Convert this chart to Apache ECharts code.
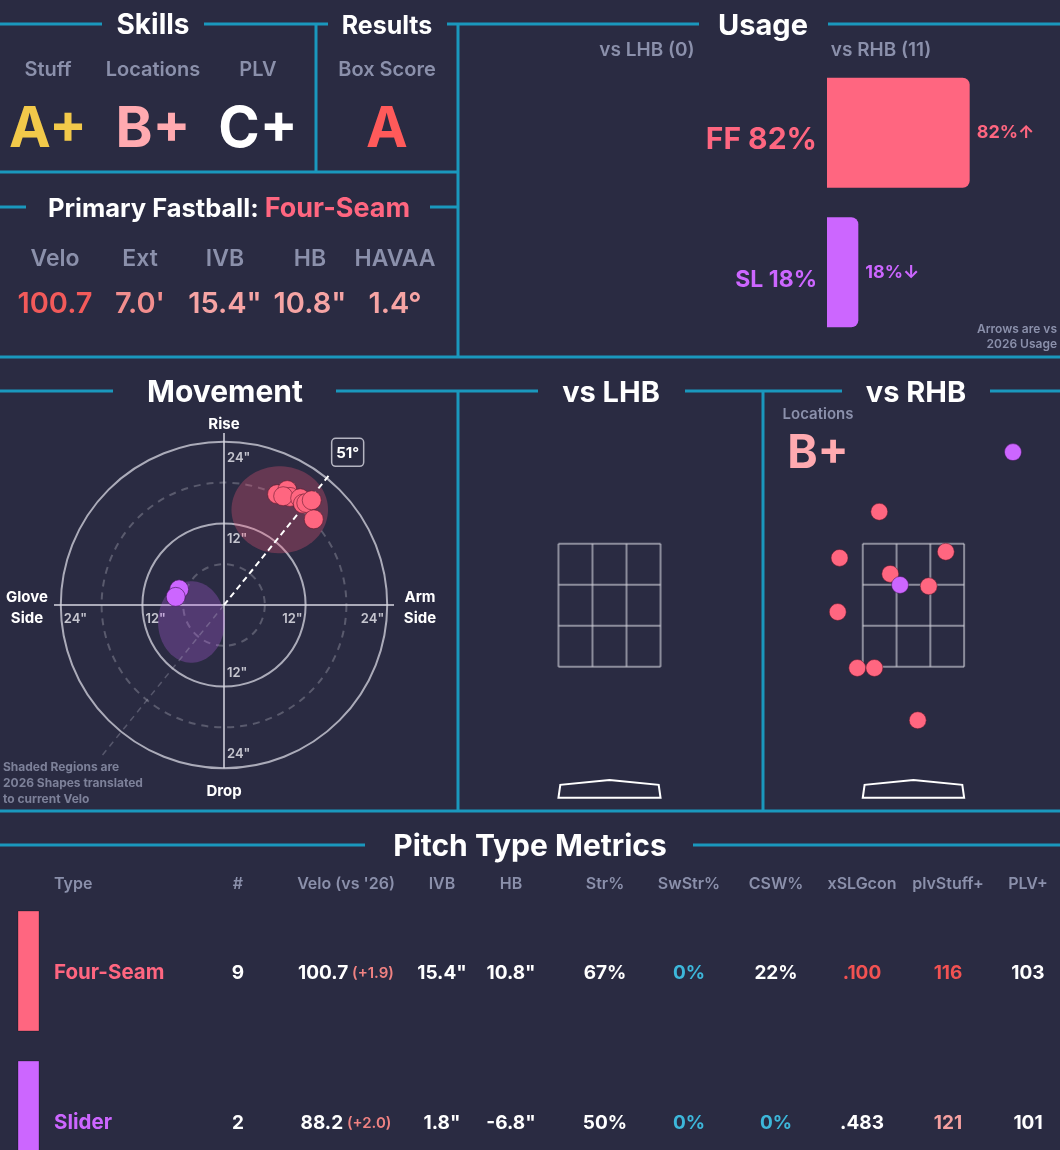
<!DOCTYPE html>
<html><head><meta charset="utf-8">
<script src="https://cdn.jsdelivr.net/npm/echarts@6/dist/echarts.min.js"></script>
<style>html,body{margin:0;padding:0;background:#2a2b42;}#c{width:1060px;height:1150px;}</style>
</head><body><div id="c"></div>
<script>
// ---------------- DATA ----------------
const skillLabels = ['Stuff', 'Locations', 'PLV'];
const skillGrades = ['A+', 'B+', 'C+'];
const resultLabels = ['Box Score'];
const resultGrades = ['A'];
const primaryFastball = 'Four-Seam';
const fbMetricLabels = ['Velo', 'Ext', 'IVB', 'HB', 'HAVAA'];
const fbMetricValues = ['100.7', "7.0'", '15.4"', '10.8"', '1.4°'];

const usageTypes = ['FF', 'SL'];
const usageRHB = [82, 18];
const usageArrows = ['↑', '↓'];
const batterCounts = { LHB: 0, RHB: 11 };

const ffMovement = [[7.8,16.3],[9.3,16.9],[9.7,15.9],[8.7,16.0],[11.2,15.7],[11.6,14.9],[12.1,15.0],[12.9,15.4],[13.2,12.6]];
const slMovement = [[-6.6,2.3],[-7.1,1.2]];
const shapeRegions = [[8.2,14.0,7.1,6.4],[-4.8,-2.5,4.9,6.0]]; // cx, cy, rx, ry (inches)
const armAngle = 51;
const ringRadii = [6, 12, 18, 24];

const ffLocLHB = [];
const slLocLHB = [];
const ffLocRHB = [[-0.56,4.02],[-1.21,3.27],[0.53,3.37],[-0.38,3.01],[0.25,2.81],[-1.24,2.39],[-0.92,1.48],[-0.64,1.48],[0.07,0.63]];
const slLocRHB = [[1.63,4.99],[-0.22,2.83]];
const locGradeRHB = 'B+';

const tableHeaders = ['Type', '#', "Velo (vs '26)", 'IVB', 'HB', 'Str%', 'SwStr%', 'CSW%', 'xSLGcon', 'plvStuff+', 'PLV+'];
const pitchNames = ['Four-Seam', 'Slider'];
const pitchCounts = [9, 2];
const pitchVelo = [100.7, 88.2];
const pitchVeloDiff = [1.9, 2.0];
const pitchIVB = [15.4, 1.8];
const pitchHB = [10.8, -6.8];
const pitchStr = [67, 50];
const pitchSwStr = [0, 0];
const pitchCSW = [22, 0];
const pitchXSLG = ['.100', '.483'];
const pitchStuffPlus = [116, 121];
const pitchPLVPlus = [103, 101];

// ---------------- STYLE / LAYOUT ----------------
const FONT = 'Inter, "Noto Sans", sans-serif';
const LINE = '#1a98bd', GRAY = '#8b90ab', WHITE = '#ffffff';
const FF_C = '#ff6680', SL_C = '#cc66ff';
const typeColors = [FF_C, SL_C];
const gradeColors = ['#f2c94a', '#ffaab0', '#ffffff'];
const resultColors = ['#ff5a5a'];
const fbValueColors = ['#f25a5a', '#f28e8e', '#f6a4a4', '#f6a4a4', '#f6a4a4'];
const DY = 2; // baseline nudge for text

const G = [];
function T(x, y, text, size, fill, opt) {
  opt = opt || {};
  G.push({ type: 'text', x: x, y: y + DY, silent: true, z: 10,
    style: Object.assign({ text: text, fill: fill, font: (opt.weight || 'bold') + ' ' + size + 'px ' + FONT,
      align: opt.align || 'center', verticalAlign: 'middle' }, opt.style || {}) });
}
function HL(y, x1, x2) { G.push({ type: 'line', silent: true, z: 5, shape: { x1: x1, y1: y, x2: x2, y2: y }, style: { stroke: LINE, lineWidth: 3 } }); }
function VL(x, y1, y2) { G.push({ type: 'line', silent: true, z: 5, shape: { x1: x, y1: y1, x2: x, y2: y2 }, style: { stroke: LINE, lineWidth: 3 } }); }

// frame
[[24,0,102],[24,204,328],[24,447,699],[24,828,1060],[172,0,458],[207,0,26],[207,430,458],
 [357,0,1060],[391,0,113],[391,336,458],[391,458,538],[391,685,763],[391,763,842],[391,990,1060],
 [811,0,1060],[845,0,365],[845,693,1060]].forEach(a => HL(a[0], a[1], a[2]));
[[316,24,172],[458,24,357],[458,391,811],[763,391,811]].forEach(a => VL(a[0], a[1], a[2]));

// section titles
T(153, 24, 'Skills', 28, WHITE);
T(387, 24, 'Results', 25, WHITE);
T(763, 24, 'Usage', 29, WHITE);
T(225, 391, 'Movement', 30, WHITE);
T(611, 391, 'vs LHB', 29, WHITE);
T(916, 391, 'vs RHB', 29, WHITE);
T(530, 845, 'Pitch Type Metrics', 30, WHITE);

// skills
const skillX = [48, 153, 258];
skillLabels.forEach((l, i) => { T(skillX[i], 68, l, 20, GRAY, { weight: 600 }); T(skillX[i], 128, skillGrades[i], 56, gradeColors[i]); });
resultLabels.forEach((l, i) => { T(387, 68, l, 20, GRAY, { weight: 600 }); T(387, 128, resultGrades[i], 56, resultColors[i]); });

// primary fastball
G.push({ type: 'text', x: 229, y: 207 + DY, silent: true, z: 10, style: { text: '{w|Primary Fastball: }{p|' + primaryFastball + '}',
  align: 'center', verticalAlign: 'middle',
  rich: { w: { fill: WHITE, font: 'bold 25.5px ' + FONT }, p: { fill: FF_C, font: 'bold 27px ' + FONT } } } });
const fbX = [55, 140, 225, 310, 395];
fbMetricLabels.forEach((l, i) => { T(fbX[i], 257, l, 23, GRAY, { weight: 600 }); T(fbX[i], 302, fbMetricValues[i], 29, fbValueColors[i], { weight: 600 }); });

// usage headers
T(647, 48, 'vs LHB (' + batterCounts.LHB + ')', 19, GRAY, { weight: 600 });
T(881, 48, 'vs RHB (' + batterCounts.RHB + ')', 19, GRAY, { weight: 600 });
T(1057, 327, 'Arrows are vs', 12, GRAY, { align: 'right', weight: 600 });
T(1057, 342, '2026 Usage', 12, GRAY, { align: 'right', weight: 600 });

// movement labels
T(224, 422, 'Rise', 15, WHITE);
T(224, 789, 'Drop', 15, WHITE);
T(27, 595, 'Glove', 15, WHITE); T(27, 616, 'Side', 15, WHITE);
T(420, 595, 'Arm', 15, WHITE); T(420, 616, 'Side', 15, WHITE);
['Shaded Regions are', '2026 Shapes translated', 'to current Velo'].forEach((s, i) => T(3, 765 + i * 16, s, 12, '#7d8199', { align: 'left' }));

// locations grade
T(818, 412, 'Locations', 15, GRAY, { weight: 600 });
T(818, 452, locGradeRHB, 46, gradeColors[1]);

// table
const colX = [54, 238, 346, 442, 511, 605, 689, 776, 862, 948, 1028];
tableHeaders.forEach((h, j) => T(colX[j], 882, h, 16, GRAY, { weight: 600, align: j === 0 ? 'left' : 'center' }));
const CYAN = '#3db7da', RED = '#f25252', PINK = '#f5a0a0';
const cellColors = [
  [FF_C, WHITE, WHITE, WHITE, WHITE, WHITE, CYAN, WHITE, RED, RED, WHITE],
  [SL_C, WHITE, WHITE, WHITE, WHITE, WHITE, CYAN, CYAN, WHITE, PINK, WHITE]
];
pitchNames.forEach((name, i) => {
  const y = 971 + i * 150;
  G.push({ type: 'rect', silent: true, z: 8, shape: { x: 18, y: y - 60, width: 21, height: 120 }, style: { fill: typeColors[i], stroke: 'rgba(0,0,0,0.25)', lineWidth: 1 } });
  const fmt = v => (v >= 0 ? '+' : '') + v.toFixed(1);
  const vals = [name, String(pitchCounts[i]), null, pitchIVB[i].toFixed(1) + '"', pitchHB[i].toFixed(1) + '"',
    pitchStr[i] + '%', pitchSwStr[i] + '%', pitchCSW[i] + '%', pitchXSLG[i], String(pitchStuffPlus[i]), String(pitchPLVPlus[i])];
  vals.forEach((v, j) => {
    if (j === 2) {
      G.push({ type: 'text', x: colX[j], y: y + DY, silent: true, z: 10, style: { text: '{v|' + pitchVelo[i].toFixed(1) + '}{d| (' + fmt(pitchVeloDiff[i]) + ')}',
        align: 'center', verticalAlign: 'middle',
        rich: { v: { fill: WHITE, font: 'bold 19px ' + FONT }, d: { fill: '#f08282', font: '600 15px ' + FONT } } } });
    } else {
      T(colX[j], y, v, j === 0 ? 20.5 : 19, cellColors[i][j], { weight: 'bold', align: j === 0 ? 'left' : 'center' });
    }
  });
});

// ---------------- CHART ----------------
const chart = echarts.init(document.getElementById('c'), null, { width: 1060, height: 1150 });

// movement grid: center (224,605), 6.8 px per inch, range +-25
const MV = 25;
// location grids: 61.5 px per ft
const PPF = 61.5, LX = [-2.4, 2.4], LY = [-0.8, 5.6];
function locGrid(cx) { return { left: cx + LX[0] * PPF, top: 759 - LY[1] * PPF, width: (LX[1] - LX[0]) * PPF, height: (LY[1] - LY[0]) * PPF }; }

const zone = { x: [-0.83, 0.83], y: [1.5, 3.5] };
const plate = [[-0.83,-0.63],[-0.80,-0.42],[0,-0.34],[0.80,-0.42],[0.83,-0.63]];

function zoneRender(params, api) {
  const ch = [];
  const st = { stroke: 'rgba(205,205,215,0.6)', lineWidth: 2 };
  for (let k = 0; k <= 3; k++) {
    const x = zone.x[0] + (zone.x[1] - zone.x[0]) * k / 3;
    const a = api.coord([x, zone.y[0]]), b = api.coord([x, zone.y[1]]);
    ch.push({ type: 'line', shape: { x1: a[0], y1: a[1], x2: b[0], y2: b[1] }, style: st });
    const y = zone.y[0] + (zone.y[1] - zone.y[0]) * k / 3;
    const c = api.coord([zone.x[0], y]), d = api.coord([zone.x[1], y]);
    ch.push({ type: 'line', shape: { x1: c[0], y1: c[1], x2: d[0], y2: d[1] }, style: st });
  }
  ch.push({ type: 'polygon', shape: { points: plate.map(p => api.coord(p)) }, style: { fill: 'none', stroke: '#ffffff', lineWidth: 2 } });
  return { type: 'group', children: ch };
}

const ringRender = function (params, api) {
  const r = api.value(0);
  const c = api.coord([0, 0]);
  const rp = api.size([r, 0])[0];
  const solid = r % 12 === 0;
  const ch = [{ type: 'circle', shape: { cx: c[0], cy: c[1], r: rp },
    style: { fill: 'none', stroke: solid ? 'rgba(215,215,225,0.75)' : 'rgba(200,200,210,0.3)', lineWidth: 2, lineDash: solid ? null : [7, 6] } }];
  if (solid) {
    const lab = r + '"';
    const f = '600 13px ' + FONT, col = 'rgba(225,225,232,0.85)';
    ch.push({ type: 'text', x: c[0] + 3, y: c[1] - rp + 16, style: { text: lab, font: f, fill: col, align: 'left', verticalAlign: 'middle' } });
    ch.push({ type: 'text', x: c[0] + 3, y: c[1] + rp - 14, style: { text: lab, font: f, fill: col, align: 'left', verticalAlign: 'middle' } });
    ch.push({ type: 'text', x: c[0] - rp + 3, y: c[1] + 14, style: { text: lab, font: f, fill: col, align: 'left', verticalAlign: 'middle' } });
    ch.push({ type: 'text', x: c[0] + rp - 3, y: c[1] + 14, style: { text: lab, font: f, fill: col, align: 'right', verticalAlign: 'middle' } });
  }
  return { type: 'group', children: ch };
};

const crossRender = function (params, api) {
  const st = { stroke: 'rgba(215,215,225,0.75)', lineWidth: 2 };
  const a = api.coord([-MV, 0]), b = api.coord([MV, 0]), c = api.coord([0, MV + 0.3]), d = api.coord([0, -24]);
  return { type: 'group', children: [
    { type: 'line', shape: { x1: a[0], y1: a[1], x2: b[0], y2: b[1] }, style: st },
    { type: 'line', shape: { x1: c[0], y1: c[1], x2: d[0], y2: d[1] }, style: st }] };
};

const regionFills = ['rgba(255,90,125,0.28)', 'rgba(204,102,255,0.25)'];
const regionRender = function (params, api) {
  const cx = api.value(0), cy = api.value(1), rx = api.value(2), ry = api.value(3);
  const pts = [];
  for (let k = 0; k < 90; k++) { const t = k / 90 * Math.PI * 2; pts.push(api.coord([cx + rx * Math.cos(t), cy + ry * Math.sin(t)])); }
  return { type: 'polygon', shape: { points: pts }, style: { fill: regionFills[params.dataIndex] } };
};

const armRender = function (params, api) {
  const ang = api.value(0) * Math.PI / 180, L = api.value(1);
  const ux = Math.cos(ang), uy = Math.sin(ang);
  const o = api.coord([0, 0]), e = api.coord([L * ux, L * uy]), back = api.coord([-29 * ux, -29 * uy]);
  const bx = api.coord([28.9 * ux, 28.9 * uy]);
  return { type: 'group', children: [
    { type: 'line', shape: { x1: o[0], y1: o[1], x2: back[0], y2: back[1] }, style: { stroke: 'rgba(200,200,215,0.28)', lineWidth: 1.5, lineDash: [6, 5] } },
    { type: 'line', shape: { x1: o[0], y1: o[1], x2: e[0], y2: e[1] }, style: { stroke: '#ffffff', lineWidth: 2, lineDash: [6, 4] } },
    { type: 'rect', shape: { x: bx[0] - 16, y: bx[1] - 14, width: 32, height: 28, r: 4 }, style: { fill: '#2a2b42', stroke: 'rgba(215,215,225,0.8)', lineWidth: 1.5 } },
    { type: 'text', x: bx[0], y: bx[1] + 1, style: { text: Math.round(api.value(0)) + '°', font: 'bold 15px ' + FONT, fill: '#fff', align: 'center', verticalAlign: 'middle' } }] };
};

const hidden = { show: false };
const option = {
  backgroundColor: '#2a2b42',
  animation: false,
  graphic: { elements: G },
  grid: [
    { left: 827, top: 63, width: 174, height: 279 },
    { left: 224 - MV * 6.8, top: 605 - MV * 6.8, width: 2 * MV * 6.8, height: 2 * MV * 6.8 },
    locGrid(609.5),
    locGrid(914.5)
  ],
  xAxis: [
    { gridIndex: 0, type: 'value', min: 0, max: 100, show: false },
    { gridIndex: 1, type: 'value', min: -MV, max: MV, show: false },
    { gridIndex: 2, type: 'value', min: LX[0], max: LX[1], show: false },
    { gridIndex: 3, type: 'value', min: LX[0], max: LX[1], show: false }
  ],
  yAxis: [
    { gridIndex: 0, type: 'category', data: usageTypes, inverse: true,
      axisLine: hidden, axisTick: hidden, splitLine: hidden,
      axisLabel: { margin: 10, formatter: (v, i) => '{' + v + '|' + v + ' ' + usageRHB[i] + '%}',
        rich: { FF: { color: FF_C, fontSize: 30, fontWeight: 'bold', fontFamily: FONT, padding: [15, 0, 0, 0] },
                SL: { color: SL_C, fontSize: 23, fontWeight: 'bold', fontFamily: FONT, padding: [16, 0, 0, 0] } } } },
    { gridIndex: 1, type: 'value', min: -MV, max: MV, show: false },
    { gridIndex: 2, type: 'value', min: LY[0], max: LY[1], show: false },
    { gridIndex: 3, type: 'value', min: LY[0], max: LY[1], show: false }
  ],
  series: [
    { type: 'bar', xAxisIndex: 0, yAxisIndex: 0, barWidth: 110,
      data: usageRHB.map((v, i) => ({ value: v, itemStyle: { color: typeColors[i], borderRadius: [0, 7, 7, 0] },
        label: { show: true, position: 'right', distance: 7, color: typeColors[i], fontSize: 18, fontWeight: 'bold', fontFamily: FONT,
          formatter: v + '%' + usageArrows[i] } })) },
    { type: 'custom', xAxisIndex: 1, yAxisIndex: 1, silent: true, z: 1, data: ringRadii.map(r => [r, 0]), renderItem: ringRender },
    { type: 'custom', xAxisIndex: 1, yAxisIndex: 1, silent: true, z: 1, data: [[0, 0]], renderItem: crossRender },
    { type: 'custom', xAxisIndex: 1, yAxisIndex: 1, silent: true, z: 2, data: shapeRegions, renderItem: regionRender },
    { type: 'custom', xAxisIndex: 1, yAxisIndex: 1, silent: true, z: 3, data: [[armAngle, 24.6]], renderItem: armRender },
    { type: 'scatter', xAxisIndex: 1, yAxisIndex: 1, z: 4, symbolSize: 19, data: slMovement, itemStyle: { color: SL_C, borderColor: 'rgba(60,20,80,0.6)', borderWidth: 1, opacity: 1 } },
    { type: 'scatter', xAxisIndex: 1, yAxisIndex: 1, z: 4, symbolSize: 19, data: ffMovement, itemStyle: { color: FF_C, borderColor: 'rgba(90,20,40,0.55)', borderWidth: 1, opacity: 1 } },
    { type: 'custom', xAxisIndex: 2, yAxisIndex: 2, silent: true, z: 1, data: [[0, 0]], renderItem: zoneRender },
    { type: 'scatter', xAxisIndex: 2, yAxisIndex: 2, z: 4, symbolSize: 17, data: ffLocLHB, itemStyle: { color: FF_C, opacity: 1 } },
    { type: 'scatter', xAxisIndex: 2, yAxisIndex: 2, z: 4, symbolSize: 17, data: slLocLHB, itemStyle: { color: SL_C, opacity: 1 } },
    { type: 'custom', xAxisIndex: 3, yAxisIndex: 3, silent: true, z: 1, data: [[0, 0]], renderItem: zoneRender },
    { type: 'scatter', xAxisIndex: 3, yAxisIndex: 3, z: 4, symbolSize: 17, data: ffLocRHB, itemStyle: { color: FF_C, borderColor: 'rgba(90,20,40,0.5)', borderWidth: 1, opacity: 1 } },
    { type: 'scatter', xAxisIndex: 3, yAxisIndex: 3, z: 5, symbolSize: 17, data: slLocRHB, itemStyle: { color: SL_C, borderColor: 'rgba(60,20,80,0.5)', borderWidth: 1, opacity: 1 } }
  ]
};
chart.setOption(option);
</script>
</body></html>
